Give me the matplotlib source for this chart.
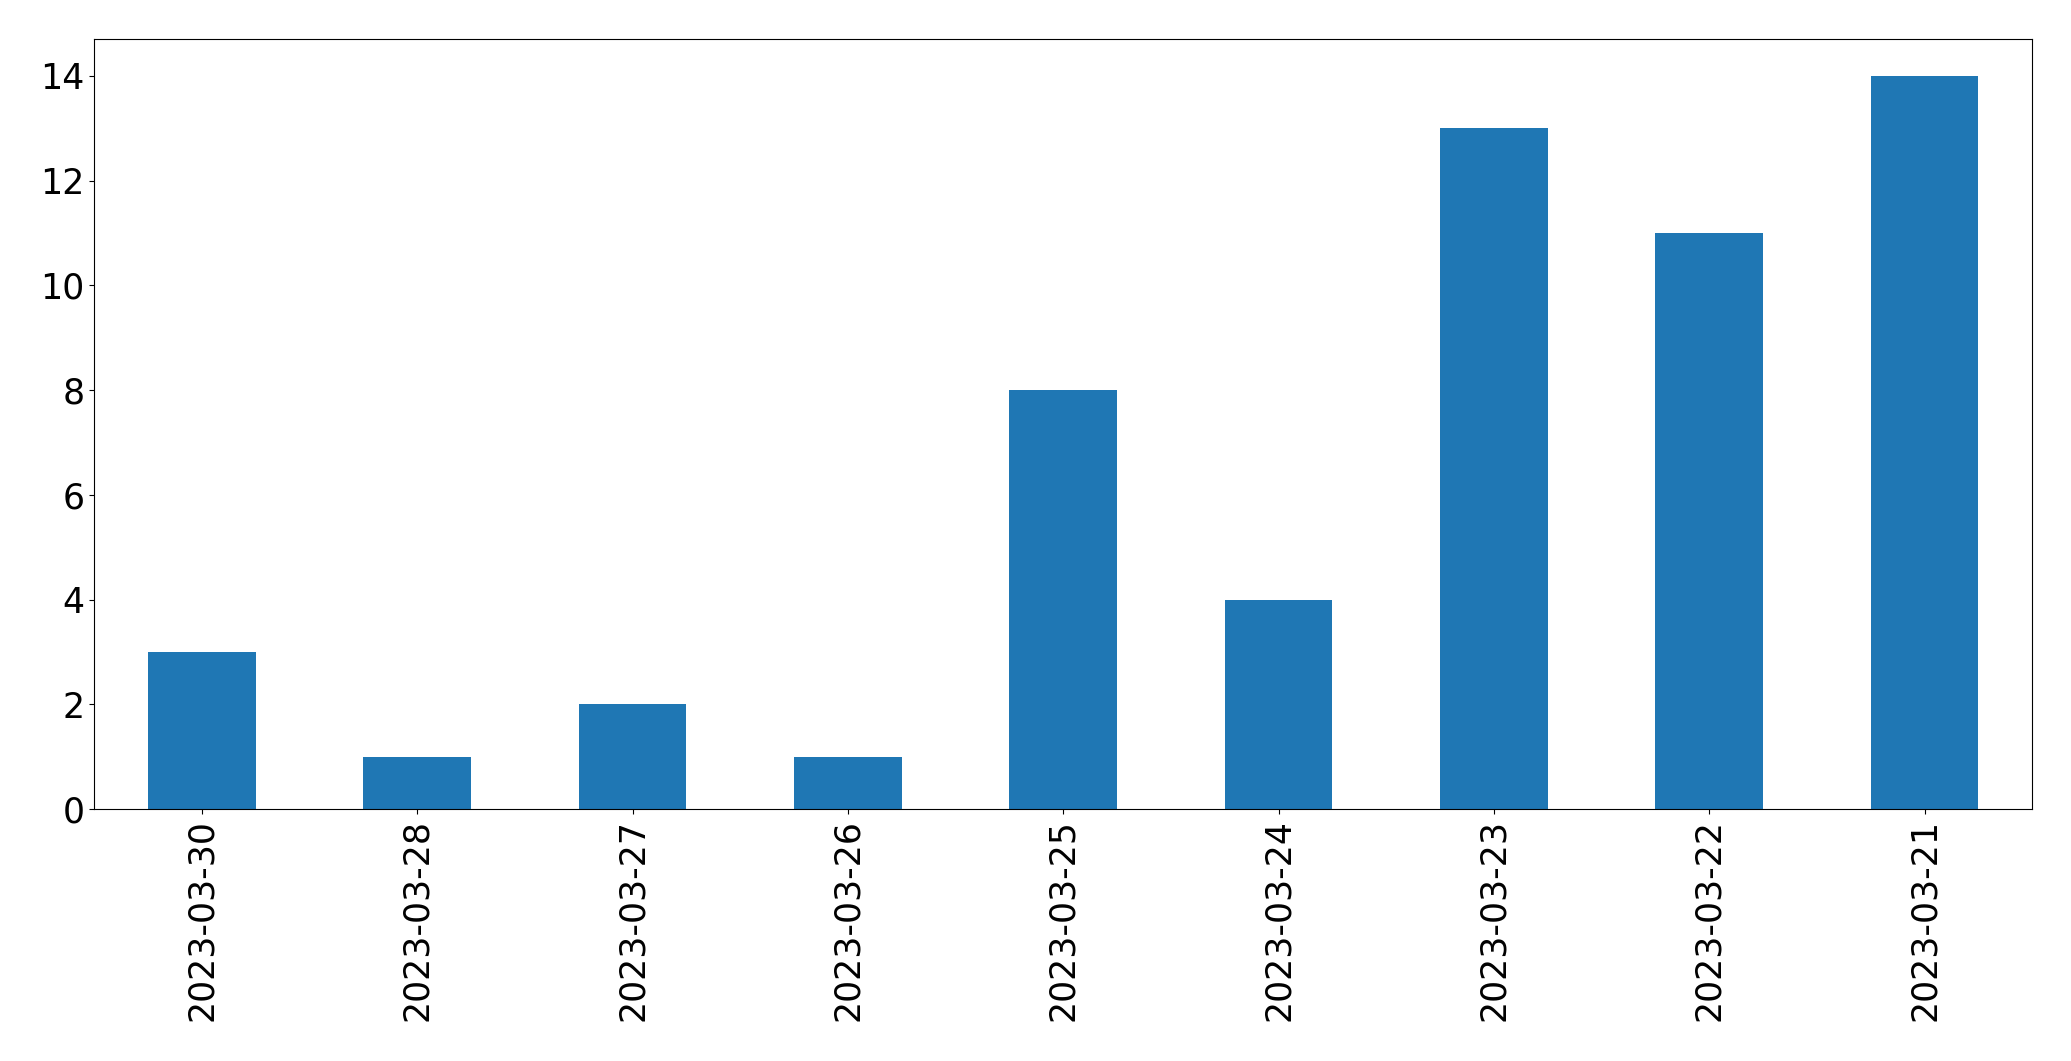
import pandas as pd
import matplotlib
matplotlib.use('Agg')
from matplotlib import pyplot as plt

#Dates as they appear on the x axis (newest first)
dates = ["2023-03-30", "2023-03-28", "2023-03-27", "2023-03-26", "2023-03-25",
         "2023-03-24", "2023-03-23", "2023-03-22", "2023-03-21"]
counts = [3, 1, 2, 1, 8, 4, 13, 11, 14]

series = pd.Series(counts, index=dates)

fig, ax = plt.subplots(figsize=(20.71, 10.61), dpi=100)
series.plot(kind='bar', ax=ax, color='#1f77b4', fontsize=25)
ax.tick_params(axis='x', labelrotation=90)

fig.subplots_adjust(left=0.0455, right=0.9813, top=0.963, bottom=0.2375)
fig.savefig('out.png', dpi=100)
